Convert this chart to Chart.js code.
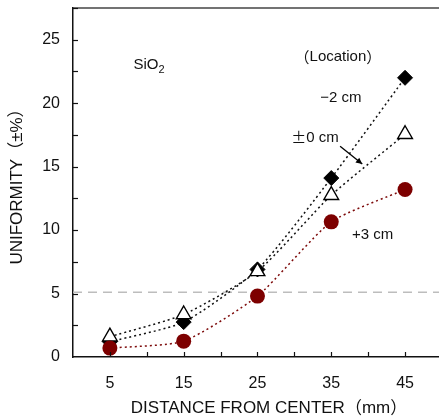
<!DOCTYPE html>
<html>
<head>
<meta charset="utf-8">
<script src="https://cdn.jsdelivr.net/npm/chart.js@4/dist/chart.umd.min.js"></script>
<style>
  html, body { margin: 0; padding: 0; background: #fff; }
  #wrap { width: 439px; height: 417px; }
</style>
</head>
<body>
<div id="wrap"><canvas id="c" width="439" height="417"></canvas></div>
<script>
// ---- data ----
const distances = [5, 15, 25, 35, 45];
const minus2cm  = [1.2, 2.75, 6.9, 14.1, 22.0];
const zero0cm   = [1.6, 3.35, 6.75, 12.75, 17.55];
const plus3cm   = [0.7, 1.25, 4.8, 10.65, 13.2];
const refLevel  = 5.1;
const xTickLabels = [5, 15, 25, 35, 45];
const yTickLabels = [0, 5, 10, 15, 20, 25];
const seriesNames = ['+3 cm', '\u00b10 cm', '\u22122 cm'];
const xTitle = 'DISTANCE FROM CENTER\uff08mm\uff09';
const yTitle = 'UNIFORMITY\uff08\u00b1%\uff09';

const FONT = "'Liberation Sans', Arial, 'Noto Sans CJK JP', sans-serif";
const CJK = "'Noto Sans CJK JP', sans-serif";
const X_MIN = 0, X_MAX = 49.6, Y_MIN = 0, Y_MAX = 27.5;

function pts(vals) { return distances.map((d, i) => ({ x: d, y: vals[i] })); }

// annotations (data coordinates)
const notes = [
  { text: '\uff08Location\uff09', x: 35.9, y: 23.65, size: 15 },
  { text: seriesNames[2], x: 36.3, y: 20.4, size: 15 },
  { text: seriesNames[1], x: 32.8, y: 17.3, size: 15 },
  { text: seriesNames[0], x: 40.6, y: 9.6, size: 15 }
];
const arrowFrom = { x: 36.2, y: 16.6 }, arrowTo = { x: 39.2, y: 15.2 };

function drawMixed(ctx, text, cx, cy, size) {
  const wideSet = '\u00b1\uff08\uff09';
  const segs = [];
  for (const ch of text) {
    const wide = wideSet.includes(ch);
    if (segs.length && segs[segs.length - 1].wide === wide) segs[segs.length - 1].t += ch;
    else segs.push({ t: ch, wide });
  }
  let total = 0;
  segs.forEach(s => { ctx.font = size + 'px ' + (s.wide ? CJK : FONT); s.w = ctx.measureText(s.t).width; total += s.w; });
  let x = cx - total / 2;
  ctx.textAlign = 'left';
  segs.forEach(s => { ctx.font = size + 'px ' + (s.wide ? CJK : FONT); ctx.fillText(s.t, x, cy); x += s.w; });
}

const decor = {
  id: 'decor',
  afterDraw(chart) {
    const ctx = chart.ctx, xs = chart.scales.x, ys = chart.scales.y, a = chart.chartArea;
    ctx.save();
    // top border
    ctx.strokeStyle = '#444'; ctx.lineWidth = 1.5;
    ctx.beginPath(); ctx.moveTo(a.left, a.top); ctx.lineTo(a.right, a.top); ctx.stroke();
    // inward tick marks
    ctx.strokeStyle = '#111'; ctx.lineWidth = 1.2;
    const xStep = (xTickLabels[1] - xTickLabels[0]) / 2;
    for (let v = xStep; v <= X_MAX; v += xStep) {
      const px = Math.round(xs.getPixelForValue(v)) + 0.5;
      ctx.beginPath(); ctx.moveTo(px, a.bottom); ctx.lineTo(px, a.bottom - 5); ctx.stroke();
    }
    const yStep = (yTickLabels[1] - yTickLabels[0]) / 2;
    for (let v = yStep; v <= Y_MAX; v += yStep) {
      const py = Math.round(ys.getPixelForValue(v)) + 0.5;
      ctx.beginPath(); ctx.moveTo(a.left, py); ctx.lineTo(a.left + 5, py); ctx.stroke();
    }
    // text notes
    ctx.fillStyle = '#111';
    ctx.textBaseline = 'middle';
    notes.forEach(n => drawMixed(ctx, n.text, xs.getPixelForValue(n.x), ys.getPixelForValue(n.y), n.size));
    // x axis title
    drawMixed(ctx, xTitle, (a.left + a.right) / 2 + 13, 408, 17);
    // SiO2 with subscript
    ctx.textAlign = 'left';
    ctx.font = '15px ' + FONT;
    const sx = xs.getPixelForValue(8.2), sy = ys.getPixelForValue(23.0);
    ctx.fillText('SiO', sx, sy);
    const w = ctx.measureText('SiO').width;
    ctx.font = '11px ' + FONT;
    ctx.fillText('2', sx + w, sy + 5);
    // arrow
    const x1 = xs.getPixelForValue(arrowFrom.x), y1 = ys.getPixelForValue(arrowFrom.y);
    const x2 = xs.getPixelForValue(arrowTo.x), y2 = ys.getPixelForValue(arrowTo.y);
    ctx.strokeStyle = '#000'; ctx.lineWidth = 1.3;
    ctx.beginPath(); ctx.moveTo(x1, y1); ctx.lineTo(x2, y2); ctx.stroke();
    const ang = Math.atan2(y2 - y1, x2 - x1), L = 7, Wd = 0.45;
    ctx.fillStyle = '#000';
    ctx.beginPath();
    ctx.moveTo(x2, y2);
    ctx.lineTo(x2 - L * Math.cos(ang - Wd), y2 - L * Math.sin(ang - Wd));
    ctx.lineTo(x2 - L * Math.cos(ang + Wd), y2 - L * Math.sin(ang + Wd));
    ctx.closePath(); ctx.fill();
    ctx.restore();
  }
};

new Chart(document.getElementById('c'), {
  type: 'line',
  data: {
    datasets: [
      { label: seriesNames[0], data: pts(plus3cm), borderColor: '#7d0a0a', borderWidth: 1.5,
        borderDash: [2, 3], tension: 0.2, pointStyle: 'circle', pointRadius: 7.5,
        pointBackgroundColor: '#7d0000', pointBorderColor: '#7d0000', pointBorderWidth: 0 },
      { label: seriesNames[1], data: pts(zero0cm), borderColor: '#111', borderWidth: 1.5,
        borderDash: [2, 3], tension: 0.2, pointStyle: 'triangle', pointRadius: 8.5,
        pointBackgroundColor: '#fff', pointBorderColor: '#000', pointBorderWidth: 1.4 },
      { label: seriesNames[2], data: pts(minus2cm), borderColor: '#111', borderWidth: 1.5,
        borderDash: [2, 3], tension: 0.2, pointStyle: 'rectRot', pointRadius: 7.5,
        pointBackgroundColor: '#000', pointBorderColor: '#000', pointBorderWidth: 1 },
      { label: 'ref', data: [{ x: X_MIN, y: refLevel }, { x: X_MAX, y: refLevel }],
        borderColor: '#bdbdbd', borderWidth: 1.6, borderDash: [9, 6], pointRadius: 0, tension: 0 }
    ]
  },
  options: {
    responsive: false, animation: false, devicePixelRatio: 1,
    layout: { padding: { top: 8, right: 0, left: 0, bottom: 0 }, autoPadding: false },
    plugins: { legend: { display: false }, tooltip: { enabled: false } },
    scales: {
      x: {
        type: 'linear', min: X_MIN, max: X_MAX,
        afterBuildTicks(s) { s.ticks = xTickLabels.map(v => ({ value: v })); },
        afterFit(s) { s.height = 60; s.paddingLeft = 0; s.paddingRight = 0; },
        grid: { display: false, drawTicks: false },
        border: { display: true, color: '#111', width: 1.5 },
        ticks: { padding: 17, color: '#111', font: { family: FONT, size: 16 }, maxRotation: 0 },
        title: { display: false }
      },
      y: {
        type: 'linear', min: Y_MIN, max: Y_MAX,
        afterBuildTicks(s) { s.ticks = yTickLabels.map(v => ({ value: v })); },
        afterFit(s) { s.width = 73; s.paddingTop = 0; s.paddingBottom = 0; },
        grid: { display: false, drawTicks: false },
        border: { display: true, color: '#111', width: 1.5 },
        ticks: { padding: 13, color: '#111', font: { family: FONT, size: 16 } },
        title: { display: true, text: yTitle, color: '#111',
          font: { family: FONT, size: 17, lineHeight: 1.2 }, padding: { top: 7, bottom: 0 } }
      }
    }
  },
  plugins: [decor]
});
</script>
</body>
</html>
